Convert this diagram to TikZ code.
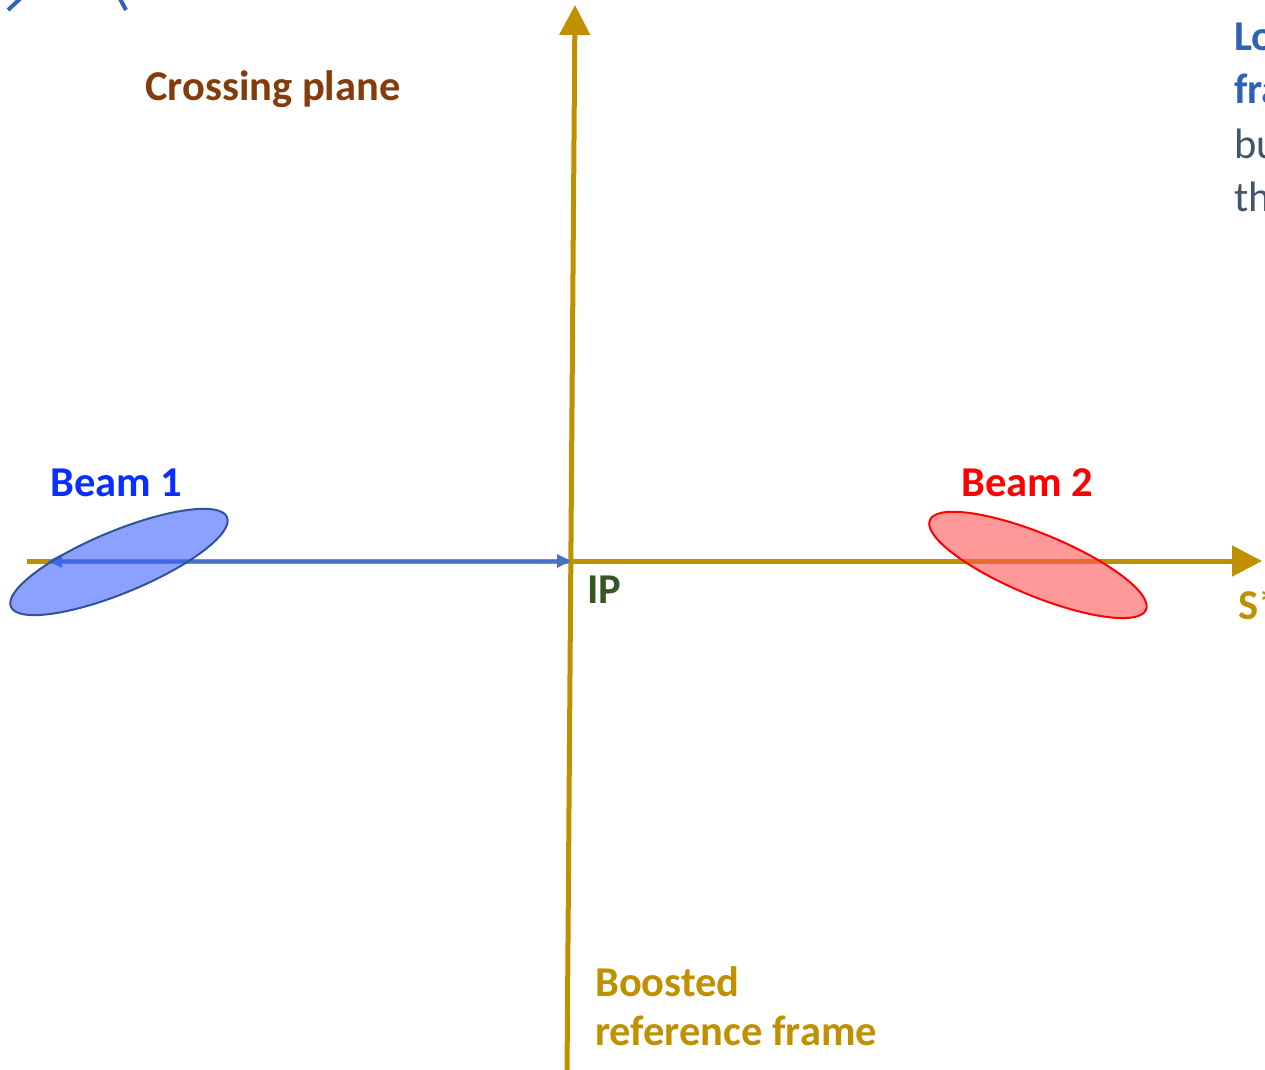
\documentclass[tikz,border=0pt]{standalone}
\usepackage{fontspec}
\setmainfont{Carlito}
\usetikzlibrary{arrows.meta}
\definecolor{axisgold}{HTML}{BF9000}
\definecolor{beamblue}{HTML}{4472C4}
\definecolor{darkblue}{HTML}{2F5597}
\definecolor{labelblue}{HTML}{0A2EFF}
\definecolor{crossbrown}{HTML}{843C0C}
\definecolor{ipgreen}{HTML}{375623}
\definecolor{textblue}{HTML}{2E62B6}
\definecolor{textgrey}{HTML}{44546A}
\tikzset{
  axisline/.style={draw=axisgold, line width=5pt, -{Triangle[length=30pt,width=30pt]}},
  beamarrow/.style={draw=beamblue, line width=3pt, {Triangle[length=14pt,width=13pt]}-{Triangle[length=14pt,width=13pt]}},
  lbl/.style={font=\bfseries\fontsize{42.5}{50}\selectfont, inner sep=0pt, anchor=base west},
  sidetext/.style={font=\fontsize{42.5}{50}\selectfont, inner sep=0pt, anchor=base west},
  bunch/.style={line width=2pt, fill opacity=0.6},
  frag/.style={draw=textblue, line width=4pt}
}
\begin{document}
\begin{tikzpicture}[x=1pt,y=-1pt]
\useasboundingbox (0,0) rectangle (1265,1069);
\clip (0,0) rectangle (1265,1069);
% coordinates
\coordinate (IP) at (571,561);
\coordinate (hstart) at (27,561);
\coordinate (hend) at (1262,561);
\coordinate (vstart) at (567,1075);
\coordinate (vend) at (575,5);
\coordinate (b1end) at (48,561);
\coordinate (b1c) at (119,562);
\coordinate (b2c) at (1038,565);
% axes
\draw[axisline] (hstart) -- (hend);
\draw[axisline] (vstart) -- (vend);
% beam 1 arrow
\draw[beamarrow] (IP) -- (b1end);
% bunches
\draw[bunch, draw=darkblue, fill={rgb,255:red,63;green,97;blue,255}, rotate around={22.5:(b1c)}]
  (b1c) ellipse [x radius=117pt, y radius=31pt];
\draw[bunch, draw=red, fill={rgb,255:red,255;green,85;blue,85}, rotate around={-22.5:(b2c)}]
  (b2c) ellipse [x radius=117pt, y radius=31pt];
% labels
\node[lbl, text=crossbrown] (cp) at (145,100) {Crossing plane};
\node[lbl, text=labelblue] (beam1) at (50,496) {Beam 1};
\node[lbl, text=red] (beam2) at (961,496) {Beam 2};
\node[lbl, text=ipgreen] (iplbl) at (587,603) {IP};
\node[lbl, text=axisgold] (slbl) at (1238,619) {S*};
\node[lbl, text=axisgold] (boost1) at (595,996) {Boosted};
\node[lbl, text=axisgold] (boost2) at (595,1045) {reference frame};
% right-side cut text
\node[lbl, text=textblue] (r1) at (1234,50) {Lor};
\node[lbl, text=textblue] (r2) at (1234,103) {fra};
\node[sidetext, text=textgrey] (r3) at (1234,158) {but};
\node[sidetext, text=textgrey] (r4) at (1234,211) {the};
% top-left cut fragments
\draw[frag] (8,10) -- (22,-3);
\draw[frag] (119,-3) -- (126,10);
\end{tikzpicture}
\end{document}
